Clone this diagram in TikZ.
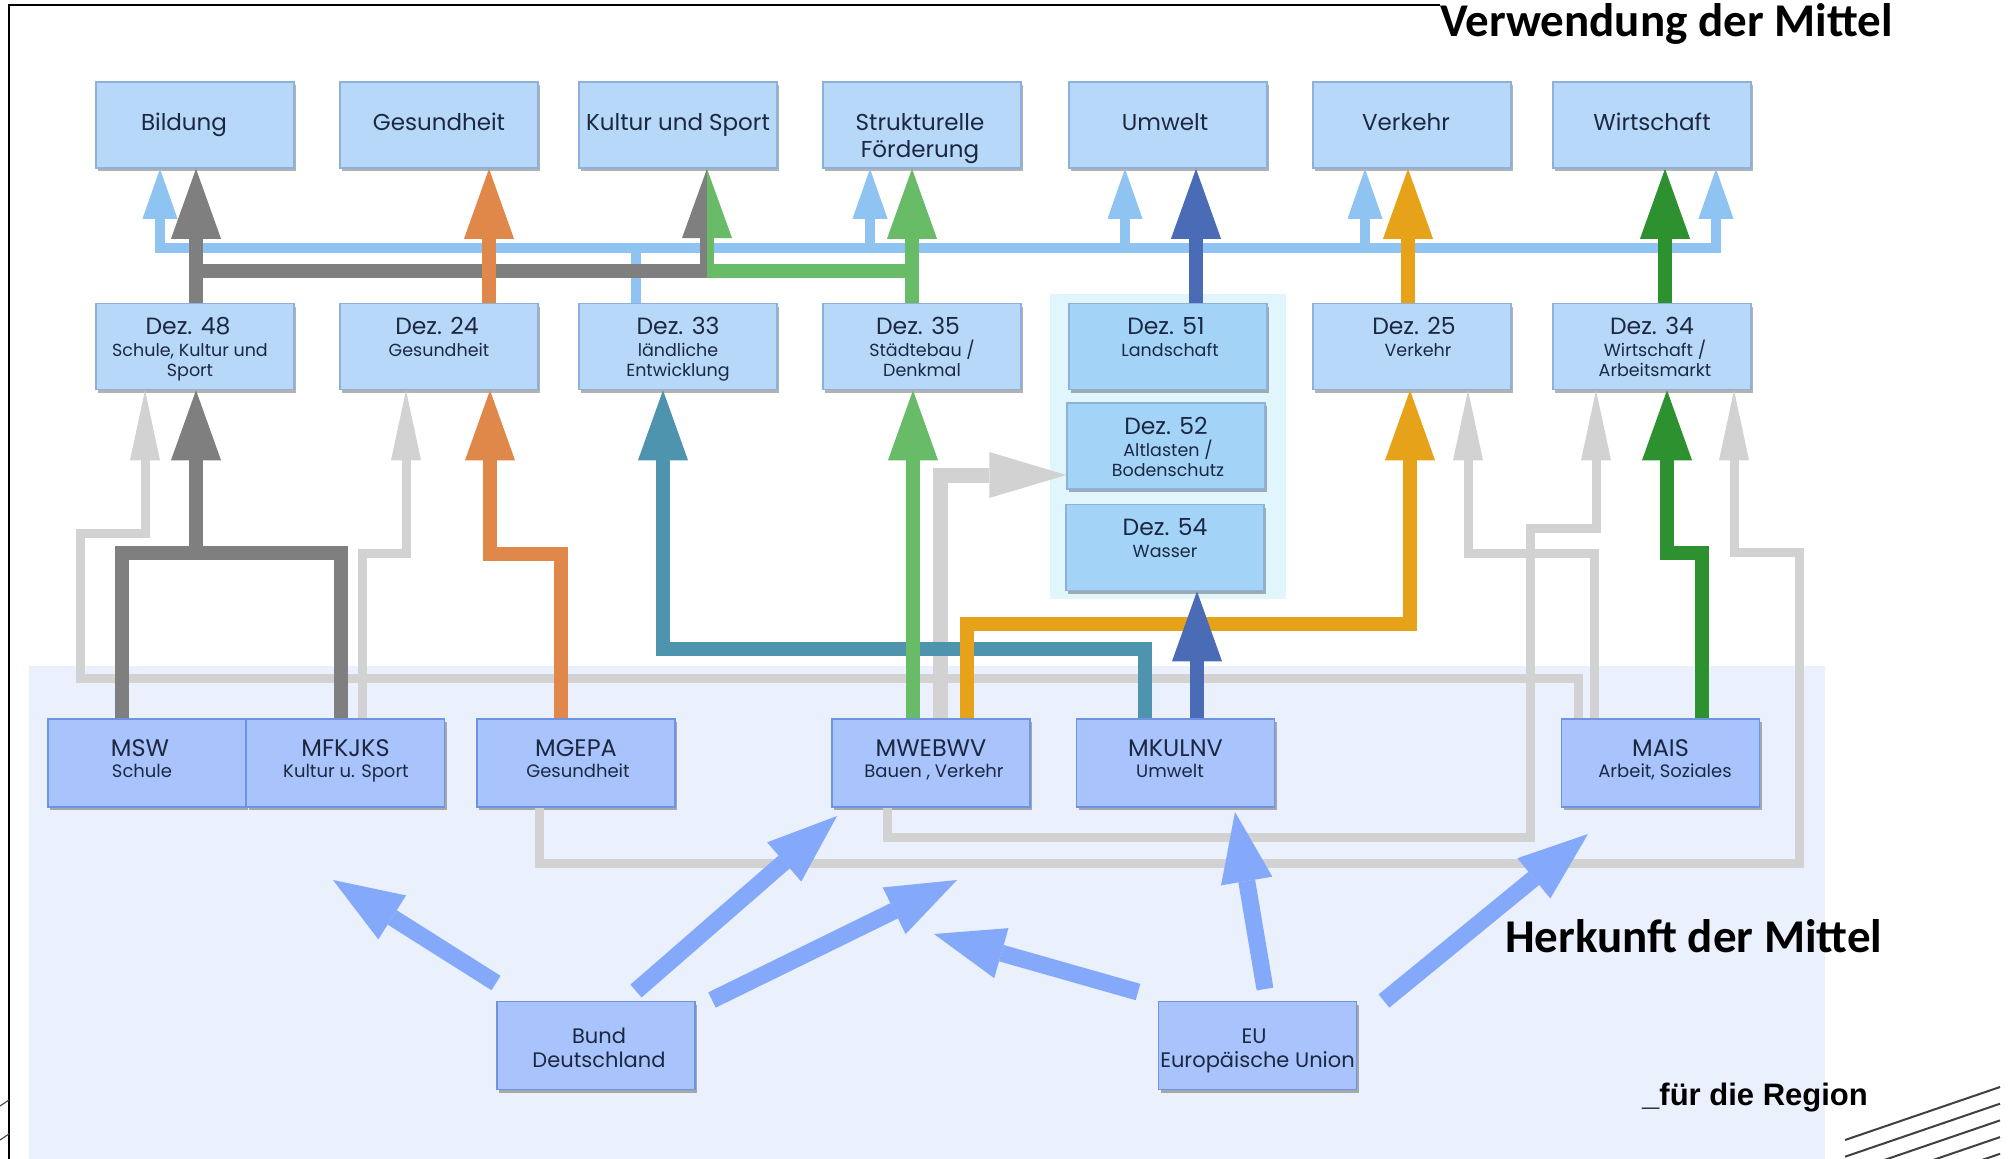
\documentclass[tikz,border=0pt]{standalone}
\usepackage{fontspec}
\setmainfont{Poppins}
\newfontfamily\carlito{Carlito}
\newfontfamily\libsans{Liberation Sans}
\usetikzlibrary{arrows.meta,shadows}

\definecolor{topfill}{HTML}{B7D8F8}
\definecolor{topdraw}{HTML}{8EB1DA}
\definecolor{dezfill}{HTML}{A3D4F7}
\definecolor{minfill}{HTML}{A9C4FC}
\definecolor{mindraw}{HTML}{6F93DF}
\definecolor{bgblue}{HTML}{EAF0FC}
\definecolor{panelc}{HTML}{E1F5FD}
\definecolor{lbline}{HTML}{8FC3F1}
\definecolor{dgray}{HTML}{7F7F7F}
\definecolor{lgray}{HTML}{D2D2D2}
\definecolor{orangec}{HTML}{E0874A}
\definecolor{lgreen}{HTML}{68BB67}
\definecolor{tealc}{HTML}{4E94AE}
\definecolor{dblue}{HTML}{4A6BB5}
\definecolor{amber}{HTML}{E6A219}
\definecolor{dgreen}{HTML}{2E9130}
\definecolor{bigblue}{HTML}{84A9FB}
\definecolor{txtc}{HTML}{1C2841}

\tikzset{
  TipS/.tip={Triangle[length=50pt,width=35pt,line width=0pt]},
  TipB/.tip={Triangle[length=70pt,width=50pt,line width=0pt]},
  TipG/.tip={Triangle[length=70pt,width=30pt,line width=0pt]},
  TipW/.tip={Triangle[length=77pt,width=46pt,line width=0pt]},
  TipBig/.tip={Triangle[length=70pt,width=52pt,line width=0pt]},
  boxbase/.style={rectangle, minimum width=198pt, minimum height=86pt, inner sep=0pt,
    line width=1.5pt, drop shadow={shadow xshift=2pt, shadow yshift=-3pt, fill=black, opacity=0.3}},
  topbox/.style={boxbase, fill=topfill, draw=topdraw},
  dezbox/.style={boxbase, fill=dezfill, draw=topdraw},
  minbox/.style={boxbase, fill=minfill, draw=mindraw, minimum height=88pt},
  ttop/.style={anchor=base, inner sep=0pt, text=txtc, font=\fontsize{23}{27}\selectfont},
  tdez/.style={anchor=base, inner sep=0pt, text=txtc, font=\fontsize{23.5}{27}\selectfont},
  tsub/.style={anchor=base, inner sep=0pt, text=txtc, font=\fontsize{17.5}{20}\selectfont},
  tmin/.style={anchor=base, inner sep=0pt, text=txtc, font=\fontsize{24}{28}\selectfont},
  tmsub/.style={anchor=base, inner sep=0pt, text=txtc, font=\fontsize{18}{21}\selectfont},
  tbund/.style={anchor=base, inner sep=0pt, text=txtc, font=\fontsize{21}{25}\selectfont},
  lbl/.style={draw=lbline, line width=10pt},
  colline/.style={line width=14pt},
  lgy/.style={draw=lgray, line width=9pt},
  bigarr/.style={draw=bigblue, line width=17pt, -TipBig},
}

\begin{document}
\begin{tikzpicture}[x=1pt,y=-1pt]
\useasboundingbox (0,0) rectangle (2013,1159);
\fill[white] (0,0) rectangle (2013,1159);
% backgrounds
\fill[bgblue] (29,666) rectangle (1825,1159);
\fill[panelc] (1050,294) rectangle (1286,599);
% frame
\draw[black, line width=1.6pt] (9,1159) -- (9,5) -- (1440,5);
\draw[black!70, line width=1.2pt] (0,1106) -- (9,1100);
\draw[black!70, line width=1.2pt] (0,1140) -- (9,1134);
\foreach \k in {0,1,2,3,4}{
  \draw[black!75, line width=2pt] (1845,1140+16.7*\k) -- (2000,1087+16.7*\k);
}

% boxes: top row
\node[topbox] (bildung) at (195,125) {};
\node[topbox] (gesundheit) at (439,125) {};
\node[topbox] (kultur) at (678,125) {};
\node[topbox] (struk) at (922,125) {};
\node[topbox] (umwelt) at (1168,125) {};
\node[topbox] (verkehr) at (1412,125) {};
\node[topbox] (wirtschaft) at (1652,125) {};
% Dez row
\node[topbox] (dez48) at (195,346.5) {};
\node[topbox] (dez24) at (439,346.5) {};
\node[topbox] (dez33) at (678,346.5) {};
\node[topbox] (dez35) at (922,346.5) {};
\node[dezbox] (dez51) at (1168,346.5) {};
\node[topbox] (dez25) at (1412,346.5) {};
\node[topbox] (dez34) at (1652,346.5) {};
\node[dezbox] (dez52) at (1166,446) {};
\node[dezbox] (dez54) at (1165,547.5) {};
% ministries
\node[minbox] (msw) at (147,763) {};
\node[minbox] (mfkjks) at (345.5,763) {};
\node[minbox] (mgepa) at (576,763) {};
\node[minbox] (mwebwv) at (931,763) {};
\node[minbox] (mkulnv) at (1175.5,763) {};
\node[minbox] (mais) at (1660.5,763) {};
\node[minbox] (bund) at (596,1045.5) {};
\node[minbox] (eu) at (1257.5,1045.5) {};

% light gray connectors (lowest)
\draw[lgy,-TipG] (mais.north -| 1578,0) -- (1578,678) -- (80,678) -- (80,533) -- (145,533) -- (dez48.south -| 145,0);
\draw[lgy,-TipG] (mfkjks.north -| 362,0) -- (362,553) -- (406,553) -- (dez24.south -| 406,0);
\draw[lgy,-TipG] (mais.north -| 1594,0) -- (1594,553) -- (1468,553) -- (dez25.south -| 1468,0);
\draw[lgy,-TipG] (mwebwv.south -| 887,0) -- (887,837) -- (1530,837) -- (1530,528) -- (1596,528) -- (dez34.south -| 1596,0);
\draw[lgy,-TipG] (mgepa.south -| 539,0) -- (539,863) -- (1799,863) -- (1799,552) -- (1734,552) -- (dez34.south -| 1734,0);
\draw[draw=lgray, line width=15pt, -TipW] (mwebwv.north -| 940,0) -- (940,475) -- (dez52.west |- 0,475);

% light blue network (Dez 33)
\draw[lbl, TipS-TipS] (bildung.south -| 160,0) -- (160,248) -- (1716,248) -- (wirtschaft.south -| 1716,0);
\draw[lbl,-TipS] (870,248) -- (struk.south -| 870,0);
\draw[lbl,-TipS] (1125,248) -- (umwelt.south -| 1125,0);
\draw[lbl,-TipS] (1365,248) -- (verkehr.south -| 1365,0);
\draw[lbl] (636,248) -- (dez33.north -| 636,0);

% upper coloured arrows
\draw[colline, draw=dgray, -TipB] (dez48.north -| 196,0) -- (bildung.south -| 196,0);
\draw[colline, draw=dgray] (196,271) -- (707,271);
\fill[dgray] (700,278) rectangle (707,238);
\fill[dgray] (kultur.south -| 707,0) -- (682,238) -- (707,238) -- cycle;
\draw[colline, draw=lgreen] (912,271) -- (707,271);
\fill[lgreen] (707,278) rectangle (714,238);
\fill[lgreen] (kultur.south -| 707,0) -- (732,238) -- (707,238) -- cycle;
\draw[colline, draw=lgreen, -TipB] (dez35.north -| 912,0) -- (struk.south -| 912,0);
\draw[colline, draw=orangec, -TipB] (dez24.north -| 489,0) -- (gesundheit.south -| 489,0);
\draw[colline, draw=dblue, -TipB] (dez51.north -| 1196,0) -- (umwelt.south -| 1196,0);
\draw[colline, draw=amber, -TipB] (dez25.north -| 1408,0) -- (verkehr.south -| 1408,0);
\draw[colline, draw=dgreen, -TipB] (dez34.north -| 1665,0) -- (wirtschaft.south -| 1665,0);

% lower coloured arrows
\draw[colline, draw=tealc, -TipB] (mkulnv.north -| 1145,0) -- (1145,649) -- (663,649) -- (dez33.south -| 663,0);
\draw[colline, draw=dgray] (msw.north -| 122,0) -- (122,553) -- (341,553) -- (mfkjks.north -| 341,0);
\draw[colline, draw=dgray, -TipB] (196,553) -- (dez48.south -| 196,0);
\draw[colline, draw=orangec, -TipB] (mgepa.north -| 561,0) -- (561,554) -- (490,554) -- (dez24.south -| 490,0);
\draw[colline, draw=lgreen, -TipB] (mwebwv.north -| 913,0) -- (dez35.south -| 913,0);
\draw[colline, draw=amber, -TipB] (mwebwv.north -| 967,0) -- (967,624) -- (1410,624) -- (dez25.south -| 1410,0);
\draw[colline, draw=dblue, -TipB] (mkulnv.north -| 1197,0) -- (dez54.south -| 1197,0);
\draw[colline, draw=dgreen, -TipB] (mais.north -| 1702,0) -- (1702,553) -- (1667,553) -- (dez34.south -| 1667,0);

% big blue arrows from Bund and EU
\coordinate (b1t) at (496,983);  \coordinate (b1h) at (333,880);
\coordinate (b2t) at (636,991);  \coordinate (b2h) at (837,816);
\coordinate (b3t) at (712,1000); \coordinate (b3h) at (957,880);
\coordinate (e1t) at (1138,992); \coordinate (e1h) at (934,934);
\coordinate (e2t) at (1265,989); \coordinate (e2h) at (1235,812);
\coordinate (e3t) at (1384,1001);\coordinate (e3h) at (1588,834);
\draw[bigarr] (b1t) -- (b1h);
\draw[bigarr] (b2t) -- (b2h);
\draw[bigarr] (b3t) -- (b3h);
\draw[bigarr] (e1t) -- (e1h);
\draw[bigarr] (e2t) -- (e2h);
\draw[bigarr] (e3t) -- (e3h);

% texts top row
\node[ttop] at (184,130) {Bildung};
\node[ttop] at (439,130) {Gesundheit};
\node[ttop] at (678,130) {Kultur und Sport};
\node[ttop] at (920,130) {Strukturelle};
\node[ttop] at (920,157) {Förderung};
\node[ttop] at (1165,130) {Umwelt};
\node[ttop] at (1406,130) {Verkehr};
\node[ttop] at (1652,130) {Wirtschaft};
% Dez texts
\node[tdez] at (188,334) {Dez. 48};
\node[tsub] at (190,356) {Schule, Kultur und};
\node[tsub] at (190,376) {Sport};
\node[tdez] at (437,334) {Dez. 24};
\node[tsub] at (439,356) {Gesundheit};
\node[tdez] at (678,334) {Dez. 33};
\node[tsub] at (678,356) {ländliche};
\node[tsub] at (678,376) {Entwicklung};
\node[tdez] at (918,334) {Dez. 35};
\node[tsub] at (922,356) {Städtebau /};
\node[tsub] at (922,376) {Denkmal};
\node[tdez] at (1166,334) {Dez. 51};
\node[tsub] at (1170,356) {Landschaft};
\node[tdez] at (1414,334) {Dez. 25};
\node[tsub] at (1418,356) {Verkehr};
\node[tdez] at (1652,334) {Dez. 34};
\node[tsub] at (1655,356) {Wirtschaft /};
\node[tsub] at (1655,376) {Arbeitsmarkt};
\node[tdez] at (1166,434) {Dez. 52};
\node[tsub] at (1168,456) {Altlasten /};
\node[tsub] at (1168,476) {Bodenschutz};
\node[tdez] at (1165,535) {Dez. 54};
\node[tsub] at (1165,557) {Wasser};
% ministry texts
\node[tmin] at (140,756) {MSW};
\node[tmsub] at (142,777) {Schule};
\node[tmin] at (345.5,756) {MFKJKS};
\node[tmsub] at (346,777) {Kultur u. Sport};
\node[tmin] at (576,756) {MGEPA};
\node[tmsub] at (578,777) {Gesundheit};
\node[tmin] at (931,756) {MWEBWV};
\node[tmsub] at (934,777) {Bauen , Verkehr};
\node[tmin] at (1175.5,756) {MKULNV};
\node[tmsub] at (1170,777) {Umwelt};
\node[tmin] at (1660.5,756) {MAIS};
\node[tmsub] at (1665,777) {Arbeit, Soziales};
\node[tbund] at (599,1043) {Bund};
\node[tbund] at (599,1067) {Deutschland};
\node[tbund] at (1254,1043) {EU};
\node[tbund] at (1257.5,1067) {Europäische Union};

% titles
\node[anchor=base west, inner sep=0pt, font=\carlito\bfseries\fontsize{47}{50}\selectfont] at (1440,36) {Verwendung der Mittel};
\node[anchor=base west, inner sep=0pt, font=\carlito\bfseries\fontsize{47}{50}\selectfont] at (1505,952) {Herkunft der Mittel};
\node[anchor=base west, inner sep=0pt, font=\libsans\bfseries\fontsize{31}{34}\selectfont] at (1642,1105) {\_für die Region};
\end{tikzpicture}
\end{document}
